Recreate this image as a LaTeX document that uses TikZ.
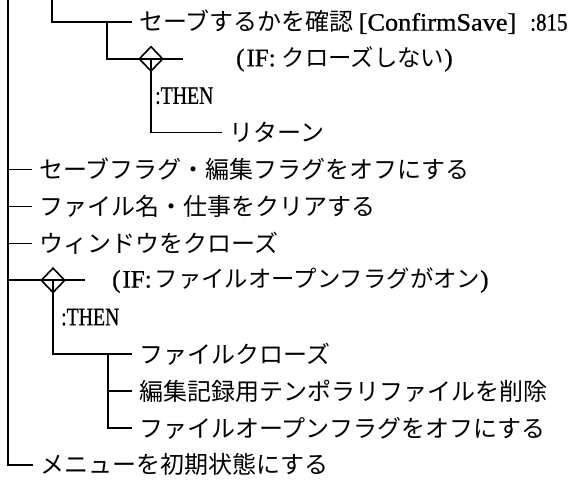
\documentclass[tikz,border=0pt]{standalone}
\usepackage{fontspec}
\usepackage{graphicx}
\setmainfont{Liberation Serif}
\newfontfamily\latf[FakeBold=0.8]{Liberation Serif}
\newfontfamily\cjk{Noto Sans CJK JP}
\usetikzlibrary{shapes.geometric}
\newcommand\lat{\latf\fontsize{25}{28}\selectfont}
\newcommand\jpc{\cjk\fontsize{23.4}{28}\selectfont}
\begin{document}
\begin{tikzpicture}[x=1pt,y=-1pt,
  conn/.style={line width=1.6pt, line join=miter},
  item/.style={anchor=west, inner xsep=7pt, inner ysep=0pt, font=\fontsize{24}{28}\selectfont\cjk},
  cond/.style={anchor=west, inner sep=0pt, font=\lat},
  thenlbl/.style={anchor=west, inner sep=0pt, font=\lat},
  ifbox/.style={diamond, draw, line width=1.6pt, minimum width=24pt, minimum height=25pt, inner sep=0pt}
]
\useasboundingbox (0,0) rectangle (581,486);

% ---- coordinates of the tree ----
\coordinate (m0) at (8,-4);
\coordinate (m5) at (8,169.6);
\coordinate (m6) at (8,206.5);
\coordinate (m7) at (8,243.4);
\coordinate (m8) at (8,280.3);
\coordinate (m13) at (8,464.8);
\coordinate (e5) at (32,169.6);
\coordinate (e6) at (32,206.5);
\coordinate (e7) at (32,243.4);
\coordinate (e8) at (85,280.3);
\coordinate (e13) at (33,464.8);

\coordinate (a0) at (52,-4);
\coordinate (a1) at (52,22);
\coordinate (b1) at (107,22);
\coordinate (e1) at (132,22);
\coordinate (b2) at (107,58.9);
\coordinate (e2) at (183,58.9);
\coordinate (c4) at (151,132.7);
\coordinate (e4) at (222,132.7);

\coordinate (g10) at (53,354.1);
\coordinate (h10) at (108,354.1);
\coordinate (e10) at (132,354.1);
\coordinate (h11) at (108,391);
\coordinate (e11) at (132,391);
\coordinate (h12) at (108,427.9);
\coordinate (e12) at (132,427.9);

% ---- decision diamonds ----
\node[ifbox] (d1) at (151,58.9) {};
\node[ifbox] (d2) at (53,280.3) {};

% ---- connectors ----
\draw[conn] (m0) -- (m13) -- (e13);
\draw[conn] (m5) -- (e5);
\draw[conn] (m6) -- (e6);
\draw[conn] (m7) -- (e7);
\draw[conn] (m8) -- (e8);
\draw[conn] (a0) -- (a1) -- (e1);
\draw[conn] (b1) -- (b2) -- (e2);
\draw[conn] (d1.center) -- (c4) -- (e4);
\draw[conn] (d2.center) -- (g10) -- (e10);
\draw[conn] (h10) -- (h12) -- (e12);
\draw[conn] (h11) -- (e11);

% ---- texts ----
\node[item] (t1) at (e1) {セーブするかを確認{\lat\hspace{5pt}\scalebox{1.05}[1]{[ConfirmSave]}\hspace{14pt}\scalebox{0.84}[1]{:815}}};
\node[cond] (t2) at (236,58.9) {(\hspace{2pt}IF:\hspace{6pt}{\jpc クローズしない})};
\node[thenlbl] (t3) at (155,95.8) {\scalebox{0.79}[1]{:THEN}};
\node[item] (t4) at (e4) {リターン};
\node[item] (t5) at (e5) {セーブフラグ・編集フラグをオフにする};
\node[item] (t6) at (e6) {ファイル名・仕事をクリアする};
\node[item] (t7) at (e7) {ウィンドウをクローズ};
\node[cond] (t8) at (112,280.3) {(\hspace{2pt}IF:\hspace{3pt}{\jpc ファイルオープンフラグがオン})};
\node[thenlbl] (t9) at (61,317.2) {\scalebox{0.79}[1]{:THEN}};
\node[item] (t10) at (e10) {ファイルクローズ};
\node[item] (t11) at (e11) {編集記録用テンポラリファイルを削除};
\node[item] (t12) at (e12) {ファイルオープンフラグをオフにする};
\node[item] (t13) at (e13) {メニューを初期状態にする};
\end{tikzpicture}
\end{document}
